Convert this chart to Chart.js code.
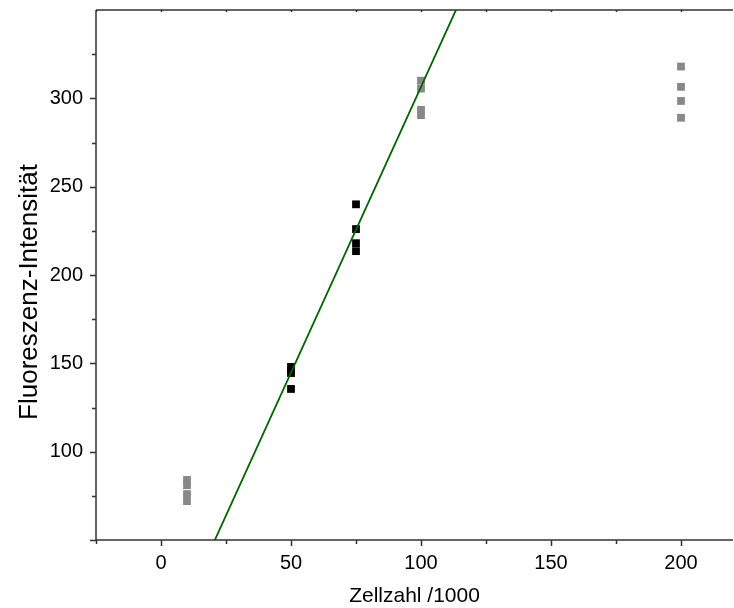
<!DOCTYPE html>
<html>
<head>
<meta charset="utf-8">
<script src="https://cdn.jsdelivr.net/npm/chart.js@4/dist/chart.umd.min.js"></script>
<style>
  html, body { margin: 0; padding: 0; background: #fff; }
  #wrap { width: 734px; height: 608px; }
</style>
</head>
<body>
<div id="wrap"><canvas id="chart"></canvas></div>
<script>
// cell counts (x /1000) and the four readings at each
const grayCounts = [10, 100, 200];
const grayValues = [
  [84, 81, 76, 72],
  [310, 305.5, 293.5, 290.5],
  [318, 306.5, 298.5, 289]
];
const blackCounts = [50, 75];
const blackValues = [
  [148, 146, 144.5, 135.5],
  [240, 226, 218, 213.5]
];
// linear fit through the black points
const fitSlope = 3.235;
const fitIntercept = -17;

const xMin = -25, xMax = 220;
const yMin = 50, yMax = 350;
const xTickValues = [-25, 0, 25, 50, 75, 100, 125, 150, 175, 200, 220];
const yTickValues = [50, 75, 100, 125, 150, 175, 200, 225, 250, 275, 300, 325];
const xTitle = "Zellzahl /1000";
const yTitle = "Fluoreszenz-Intensität";

function flatten(counts, values) {
  const pts = [];
  counts.forEach((c, i) => values[i].forEach((v) => pts.push({ x: c, y: v })));
  return pts;
}

const fitLine = [xMin, xMax].map((x) => ({ x: x, y: fitSlope * x + fitIntercept }));

const font = "'Liberation Sans', Arial, sans-serif";

// axis lines, top frame line, major/minor tick marks and the y title
const axisTicks = {
  id: "axisTicks",
  afterDraw(chart) {
    const { ctx, chartArea: a, scales: { x, y } } = chart;
    ctx.save();
    ctx.strokeStyle = "#333";
    ctx.lineWidth = 1.5;
    ctx.beginPath();
    ctx.moveTo(a.left, a.top);
    ctx.lineTo(a.right, a.top);
    ctx.moveTo(a.left, a.top);
    ctx.lineTo(a.left, a.bottom);
    ctx.lineTo(a.right, a.bottom);
    x.ticks.forEach((t) => {
      if (t.value % 25 !== 0) return;
      const px = Math.round(x.getPixelForValue(t.value)) + 0.5;
      const len = t.value % 50 === 0 ? 6 : 4;
      ctx.moveTo(px, a.bottom);
      ctx.lineTo(px, a.bottom + len);
      ctx.moveTo(px, a.top);
      ctx.lineTo(px, a.top + 2);
    });
    y.ticks.forEach((t) => {
      const py = Math.round(y.getPixelForValue(t.value)) + 0.5;
      const len = t.value % 50 === 0 ? 6 : 4;
      ctx.moveTo(a.left, py);
      ctx.lineTo(a.left - len, py);
    });
    ctx.stroke();

    // y title, sits a bit below the middle of the axis
    ctx.translate(30, 292);
    ctx.rotate(-Math.PI / 2);
    ctx.fillStyle = "#000";
    ctx.font = "26px " + font;
    ctx.textAlign = "center";
    ctx.textBaseline = "middle";
    ctx.fillText(yTitle, 0, 0);
    ctx.restore();
  }
};

const ctx = document.getElementById("chart").getContext("2d");
new Chart(ctx, {
  type: "scatter",
  data: {
    datasets: [
      {
        type: "line",
        data: fitLine,
        borderColor: "#006400",
        borderWidth: 1.8,
        pointRadius: 0,
        fill: false
      },
      {
        data: flatten(blackCounts, blackValues),
        pointStyle: "rect",
        pointRadius: 5.5,
        pointBorderWidth: 0,
        backgroundColor: "#000"
      },
      {
        data: flatten(grayCounts, grayValues),
        pointStyle: "rect",
        pointRadius: 5.5,
        pointBorderWidth: 0,
        backgroundColor: "#888"
      }
    ]
  },
  options: {
    responsive: true,
    maintainAspectRatio: false,
    animation: false,
    layout: { autoPadding: false, padding: { top: 10, right: 1, left: 0, bottom: 0 } },
    plugins: {
      legend: { display: false },
      tooltip: { enabled: false }
    },
    scales: {
      x: {
        type: "linear",
        min: xMin,
        max: xMax,
        grid: { display: false, drawTicks: false },
        border: { display: false },
        afterBuildTicks: (scale) => {
          scale.ticks = xTickValues.map((v) => ({ value: v }));
        },
        afterFit: (scale) => {
          scale.height = 68;
          scale.paddingLeft = 0;
          scale.paddingRight = 0;
        },
        ticks: {
          autoSkip: false,
          maxRotation: 0,
          padding: 11,
          color: "#000",
          font: { family: font, size: 20 },
          callback: (v) => (v % 50 === 0 ? String(v) : "")
        },
        title: {
          display: true,
          text: xTitle,
          color: "#000",
          font: { family: font, size: 21, lineHeight: 1 },
          padding: { top: 0, bottom: 1 }
        }
      },
      y: {
        type: "linear",
        min: yMin,
        max: yMax,
        grid: { display: false, drawTicks: false },
        border: { display: false },
        afterBuildTicks: (scale) => {
          scale.ticks = yTickValues.map((v) => ({ value: v }));
        },
        afterFit: (scale) => {
          scale.width = 96;
          scale.paddingTop = 0;
          scale.paddingBottom = 0;
        },
        ticks: {
          autoSkip: false,
          padding: 13,
          color: "#000",
          font: { family: font, size: 20 },
          callback: (v) => (v % 50 === 0 && v !== yMin ? String(v) : "")
        },
        title: { display: false }
      }
    }
  },
  plugins: [axisTicks]
});
</script>
</body>
</html>
